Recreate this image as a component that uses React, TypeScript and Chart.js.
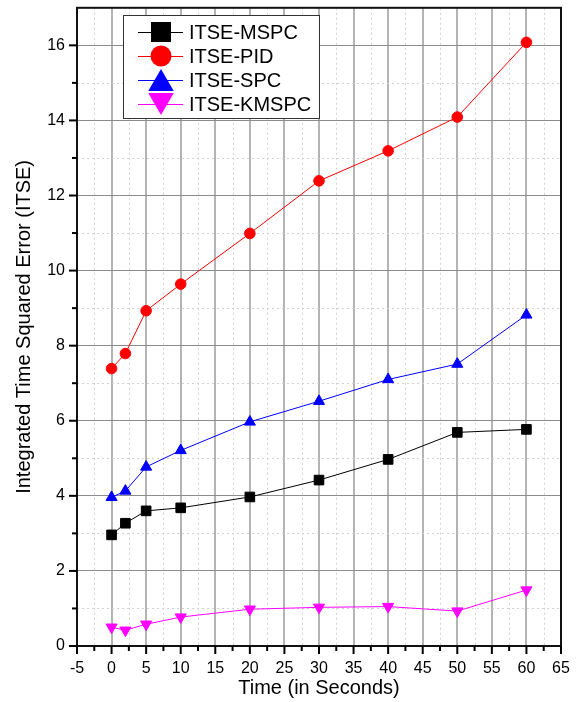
import { useEffect, useRef } from "react";
import { Chart, registerables } from "chart.js";

Chart.register(...registerables);

const timeSeconds = [0, 2, 5, 10, 20, 30, 40, 50, 60];
const itseMSPC = [2.96, 3.27, 3.6, 3.68, 3.97, 4.42, 4.97, 5.69, 5.77];
const itsePID = [7.39, 7.79, 8.93, 9.64, 10.99, 12.39, 13.19, 14.09, 16.08];
const itseSPC = [3.96, 4.13, 4.77, 5.21, 5.97, 6.52, 7.1, 7.51, 8.82];
const itseKMSPC = [0.5, 0.42, 0.58, 0.77, 0.98, 1.03, 1.05, 0.93, 1.49];

const seriesLabels = ["ITSE-MSPC", "ITSE-PID", "ITSE-SPC", "ITSE-KMSPC"];
const seriesColors = ["#000000", "#ff0000", "#0000ff", "#ff00ff"];
const seriesMarkers = ["square", "circle", "up", "down"];

const X_MIN = -5;
const X_MAX = 65;
const Y_MIN = 0;
const Y_MAX = 17;

const FONT = "'Liberation Sans', Arial, Helvetica, sans-serif";

function drawMarker(ctx: CanvasRenderingContext2D, kind: string, x: number, y: number, s: number, color: string) {
  ctx.fillStyle = color;
  ctx.beginPath();
  if (kind === "square") {
    ctx.rect(x - s / 2, y - s / 2, s, s);
  } else if (kind === "circle") {
    ctx.arc(x, y, s / 2, 0, Math.PI * 2);
  } else if (kind === "up") {
    ctx.moveTo(x, y - s * 0.5);
    ctx.lineTo(x + s * 0.58, y + s * 0.5);
    ctx.lineTo(x - s * 0.58, y + s * 0.5);
    ctx.closePath();
  } else {
    ctx.moveTo(x, y + s * 0.5);
    ctx.lineTo(x + s * 0.58, y - s * 0.5);
    ctx.lineTo(x - s * 0.58, y - s * 0.5);
    ctx.closePath();
  }
  ctx.fill();
}

const decorPlugin = {
  id: "decor",
  beforeDatasetsDraw(chart: any) {
    const { ctx, chartArea: a, scales } = chart;
    const x = scales.x;
    const y = scales.y;
    ctx.save();
    ctx.strokeStyle = "#d2d2d2";
    ctx.lineWidth = 1;
    ctx.setLineDash([2, 3]);
    for (let v = X_MIN + 2.5; v < X_MAX; v += 5) {
      const px = Math.round(x.getPixelForValue(v)) + 0.5;
      ctx.beginPath();
      ctx.moveTo(px, a.top);
      ctx.lineTo(px, a.bottom);
      ctx.stroke();
    }
    for (let v = Y_MIN + 1; v < Y_MAX; v += 2) {
      const py = Math.round(y.getPixelForValue(v)) + 0.5;
      ctx.beginPath();
      ctx.moveTo(a.left, py);
      ctx.lineTo(a.right, py);
      ctx.stroke();
    }
    ctx.restore();
  },
  afterDraw(chart: any) {
    const { ctx, chartArea: a, scales } = chart;
    const x = scales.x;
    const y = scales.y;
    ctx.save();
    // frame
    ctx.strokeStyle = "#111";
    ctx.lineWidth = 2;
    ctx.strokeRect(a.left, a.top, a.right - a.left, a.bottom - a.top);
    // ticks
    ctx.strokeStyle = "#000";
    ctx.lineWidth = 2;
    for (let v = X_MIN; v <= X_MAX + 0.01; v += 2.5) {
      const major = Math.abs(v % 5) < 0.01;
      const px = x.getPixelForValue(v);
      ctx.beginPath();
      ctx.moveTo(px, a.bottom);
      ctx.lineTo(px, a.bottom + (major ? 8 : 5));
      ctx.stroke();
    }
    for (let v = Y_MIN; v < Y_MAX; v += 1) {
      const major = v % 2 === 0;
      const py = y.getPixelForValue(v);
      ctx.beginPath();
      ctx.moveTo(a.left, py);
      ctx.lineTo(a.left - (major ? 8 : 5), py);
      ctx.stroke();
    }
    // legend
    const bx = 123.5, by = 15.5, bw = 196, bh = 103;
    ctx.fillStyle = "#ffffff";
    ctx.fillRect(bx, by, bw, bh);
    ctx.strokeStyle = "#333";
    ctx.lineWidth = 1;
    ctx.strokeRect(bx, by, bw, bh);
    ctx.font = `20px ${FONT}`;
    ctx.textBaseline = "middle";
    ctx.textAlign = "left";
    seriesLabels.forEach((label, i) => {
      const cy = 32 + i * 24;
      ctx.strokeStyle = seriesColors[i];
      ctx.lineWidth = 1;
      ctx.beginPath();
      ctx.moveTo(138, cy + 0.5);
      ctx.lineTo(183, cy + 0.5);
      ctx.stroke();
      const kind = seriesMarkers[i];
      const size = kind === "square" ? 20 : kind === "circle" ? 21 : 22;
      drawMarker(ctx, kind, 161, cy, size, seriesColors[i]);
      ctx.fillStyle = "#000";
      ctx.fillText(label, 189, cy + 1);
    });
    ctx.restore();
  },
};

export default function App() {
  const ref = useRef<HTMLCanvasElement | null>(null);
  useEffect(() => {
    document.body.style.margin = "0";
    const canvas = ref.current;
    if (!canvas) return;
    const values = [itseMSPC, itsePID, itseSPC, itseKMSPC];
    const styles: any[] = [
      { pointStyle: "rect", pointRadius: 6.8 },
      { pointStyle: "circle", pointRadius: 5.3 },
      { pointStyle: "triangle", pointRadius: 6.4 },
      { pointStyle: "triangle", pointRadius: 6.4, pointRotation: 180 },
    ];
    const datasets = values.map((vals, i) => ({
      label: seriesLabels[i],
      data: timeSeconds.map((t, j) => ({ x: t, y: vals[j] })),
      borderColor: seriesColors[i],
      backgroundColor: seriesColors[i],
      pointBackgroundColor: seriesColors[i],
      pointBorderColor: seriesColors[i],
      pointBorderWidth: 1,
      borderWidth: 1,
      tension: 0,
      fill: false,
      ...styles[i],
    }));
    const chart = new Chart(canvas, {
      type: "line",
      data: { datasets },
      plugins: [decorPlugin],
      options: {
        animation: false,
        responsive: false,
        maintainAspectRatio: false,
        devicePixelRatio: 1,
        layout: { padding: { top: 5, right: 19, left: 0, bottom: 0 } },
        plugins: {
          legend: { display: false },
          tooltip: { enabled: false },
        },
        scales: {
          x: {
            type: "linear",
            min: X_MIN,
            max: X_MAX,
            ticks: {
              stepSize: 5,
              color: "#000",
              font: { family: FONT, size: 16 },
              padding: 13,
              maxRotation: 0,
              autoSkip: false,
            },
            grid: { color: "#b4b4b4", lineWidth: 2, drawTicks: false },
            border: { display: false },
            title: {
              display: true,
              text: "Time (in Seconds)",
              color: "#000",
              font: { family: FONT, size: 20 },
              padding: { top: 0, bottom: 2 },
            },
            afterFit: (s: any) => {
              s.height = 56;
              s.paddingLeft = 0;
              s.paddingRight = 0;
            },
          },
          y: {
            type: "linear",
            min: Y_MIN,
            max: Y_MAX,
            afterBuildTicks: (s: any) => {
              s.ticks = s.ticks.filter((t: any) => t.value % 2 === 0);
            },
            ticks: {
              stepSize: 2,
              color: "#000",
              font: { family: FONT, size: 16 },
              padding: 12,
            },
            grid: { color: "#8c8c8c", lineWidth: 1, drawTicks: false },
            border: { display: false },
            title: {
              display: true,
              text: "Integrated Time Squared Error (ITSE)",
              color: "#000",
              font: { family: FONT, size: 20 },
              padding: { top: 12, bottom: 0 },
            },
            afterFit: (s: any) => {
              s.width = 77;
              s.paddingTop = 0;
              s.paddingBottom = 0;
            },
          },
        },
      } as any,
    });
    return () => chart.destroy();
  }, []);
  return (
    <div style={{ width: 580, height: 702 }}>
      <canvas ref={ref} width={580} height={702} style={{ display: "block", width: 580, height: 702 }} />
    </div>
  );
}
